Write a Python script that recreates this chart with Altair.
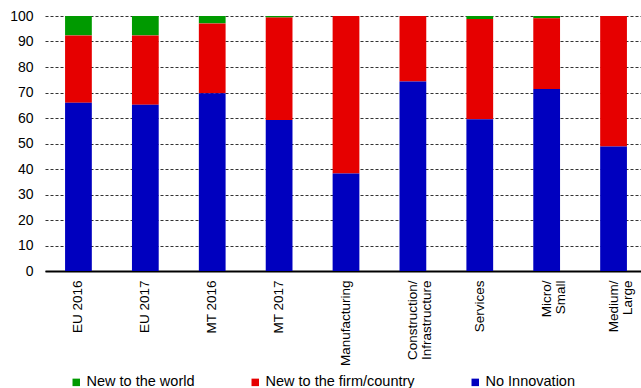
import altair as alt
import pandas as pd

categories = ["EU 2016", "EU 2017", "MT 2016", "MT 2017", "Manufacturing",
              "Construction/Infrastructure", "Services", "Micro/Small", "Medium/Large"]
no_innovation = [66.0, 65.2, 69.7, 59.2, 38.2, 74.3, 59.5, 71.4, 48.8]
new_to_firm = [26.4, 27.2, 27.4, 40.2, 61.8, 25.7, 39.3, 27.7, 51.2]
new_to_world = [7.6, 7.6, 2.9, 0.6, 0.0, 0.0, 1.2, 0.9, 0.0]

series = ["New to the world", "New to the firm/country", "No Innovation"]
colors = ["#009A00", "#E60000", "#0000BF"]
stack_order = {"No Innovation": 0, "New to the firm/country": 1, "New to the world": 2}

rows = []
for i, c in enumerate(categories):
    for s, vals in zip(series, [new_to_world, new_to_firm, no_innovation]):
        rows.append({"category": c, "series": s, "value": vals[i], "order": stack_order[s]})
df = pd.DataFrame(rows)

font = "Liberation Sans"

chart = alt.Chart(df).mark_bar().encode(
    x=alt.X("category:N", sort=categories,
            scale=alt.Scale(range=[0, 602], paddingInner=0.6, paddingOuter=0.3),
            axis=alt.Axis(title=None, labelAngle=270, labelFontSize=13.5, labelFont=font,
                          labelColor="black", labelPadding=9, ticks=False, domainColor="black",
                          domainWidth=2, labelLineHeight=14,
                          labelExpr="split(replace(datum.label, '/', '/\\n'), '\\n')")),
    y=alt.Y("value:Q", stack="zero", scale=alt.Scale(domain=[0, 100], nice=False),
            axis=alt.Axis(title=None, values=list(range(0, 101, 10)), labelFontSize=14,
                          labelFont=font, labelColor="black", labelPadding=12, ticks=False,
                          domain=False, gridDash=[3, 2], gridColor="#333333", gridWidth=1)),
    color=alt.Color("series:N", sort=series,
                    scale=alt.Scale(domain=series, range=colors),
                    legend=alt.Legend(title=None, orient="none", legendX=24, legendY=359,
                                      direction="horizontal", columns=3, gridAlign="each",
                                      columnPadding=53, symbolType="square", symbolSize=56,
                                      symbolStrokeWidth=0, labelFontSize=14.5, labelFont=font,
                                      labelColor="black", labelOffset=3, padding=0)),
    order=alt.Order("order:Q"),
).properties(
    width=596, height=255,
    autosize=alt.AutoSizeParams(type="none"),
    padding={"left": 45, "top": 16, "right": 0, "bottom": 117},
).configure_view(stroke=None).configure_axis(labelFont=font)

chart.save("out.html", embed_options={"renderer": "svg", "actions": False})
